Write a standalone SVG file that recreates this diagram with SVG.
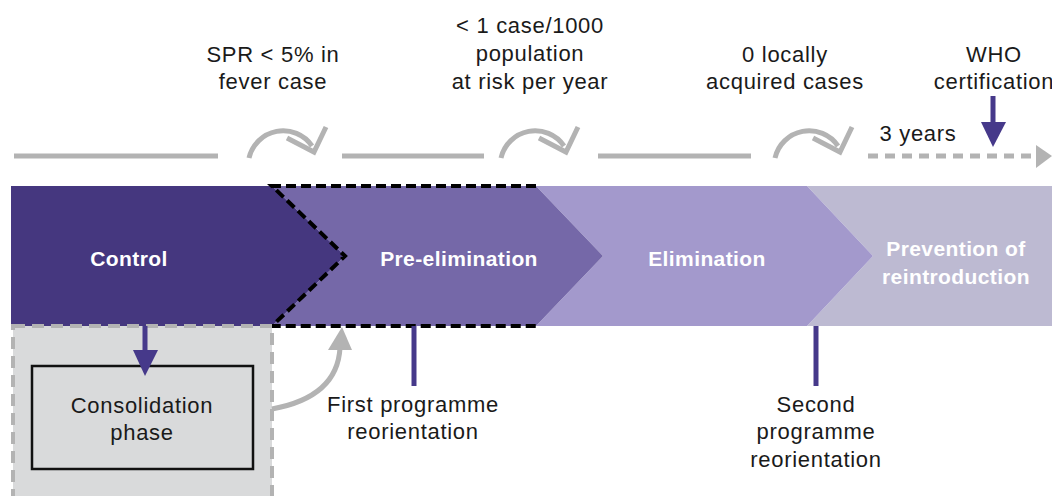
<svg xmlns="http://www.w3.org/2000/svg" width="1052" height="496" viewBox="0 0 1052 496">
<defs>
<style>
.t{font-family:"Liberation Sans",Arial,sans-serif;font-size:22px;letter-spacing:0.7px;fill:#1a1a1a;text-anchor:middle}
.b{font-family:"Liberation Sans",Arial,sans-serif;font-size:21px;letter-spacing:0.4px;font-weight:bold;fill:#ffffff;text-anchor:middle}
.g{fill:none;stroke:#b3b3b3;stroke-width:5}
.p{stroke:#46398a;stroke-width:5;fill:none}
</style>
</defs>
<rect width="1052" height="496" fill="#ffffff"/>
<g id="prevention">
<polygon points="807,186 1052,186 1052,326 807,326 873,256" fill="#bdbad2"/>
<text class="b" x="956" y="256">Prevention of</text>
<text class="b" x="956" y="284">reintroduction</text>
</g>
<g id="elimination">
<polygon points="536,186 807,186 873,256 807,326 536,326 603,256" fill="#a399cc"/>
<text class="b" x="707" y="266">Elimination</text>
</g>
<g id="preelimination">
<polygon points="272,186 536,186 603,256 536,326 272,326 345,256" fill="#7568a8"/>
<text class="b" x="459" y="266">Pre-elimination</text>
</g>
<g id="control">
<polygon points="11,186 272,186 345,256 272,326 11,326" fill="#45377f"/>
<text class="b" x="129" y="266">Control</text>
</g>
<g id="preelim-border">
<polyline points="536,186 272,186 345,256 272,326 536,326" fill="none" stroke="#000" stroke-width="4" stroke-dasharray="10,5"/>
</g>
<g id="consolidation">
<rect x="13" y="326" width="259" height="180" fill="#d9dadb" stroke="#b3b3b3" stroke-width="4" stroke-dasharray="12,7"/>
<rect x="32" y="366" width="221" height="103" fill="none" stroke="#111" stroke-width="2.5"/>
<text class="t" x="142" y="413">Consolidation</text>
<text class="t" x="142" y="440">phase</text>
</g>
<g id="criteria">
<text class="t" x="273" y="62">SPR &lt; 5% in</text>
<text class="t" x="273" y="89">fever case</text>
<text class="t" x="530" y="33">&lt; 1 case/1000</text>
<text class="t" x="530" y="61">population</text>
<text class="t" x="530" y="89">at risk per year</text>
<text class="t" x="785" y="62">0 locally</text>
<text class="t" x="785" y="89">acquired cases</text>
<text class="t" x="994" y="62">WHO</text>
<text class="t" x="994" y="89">certification</text>
<text class="t" x="918" y="141">3 years</text>
</g>
<g id="reorientation1">
<text class="t" x="413" y="412">First programme</text>
<text class="t" x="413" y="439">reorientation</text>
</g>
<g id="reorientation2">
<text class="t" x="816" y="412">Second</text>
<text class="t" x="816" y="439">programme</text>
<text class="t" x="816" y="467">reorientation</text>
</g>
<g id="connectors">
<line class="g" x1="14" y1="156" x2="218" y2="156"/>
<line class="g" x1="342" y1="156" x2="484" y2="156"/>
<line class="g" x1="598" y1="156" x2="751" y2="156"/>
<path class="g" d="M249,158 A35,35 0 0 1 312,146"/>
<polyline class="g" points="287,138 314,152 326,127"/>
<path class="g" d="M501,158 A35,35 0 0 1 564,146"/>
<polyline class="g" points="539,138 566,152 578,127"/>
<path class="g" d="M775,158 A35,35 0 0 1 838,146"/>
<polyline class="g" points="813,138 840,152 852,127"/>
<line x1="868" y1="156" x2="1036" y2="156" stroke="#b3b3b3" stroke-width="5" stroke-dasharray="10,7"/>
<polygon points="1036,145 1052,156 1036,168" fill="#b3b3b3"/>
<line class="p" x1="993" y1="96" x2="993" y2="124"/>
<polygon points="981,122 1006,122 993,147" fill="#46398a"/>
<line class="p" x1="145" y1="326" x2="145" y2="352"/>
<polygon points="133,350 158,350 145,376" fill="#46398a"/>
<path class="g" d="M272,409 C310,402 338,384 340,348"/>
<polygon points="328,350 352,350 342,327" fill="#b3b3b3"/>
<line class="p" x1="414" y1="326" x2="414" y2="386"/>
<line class="p" x1="816" y1="326" x2="816" y2="386"/>
</g>
</svg>
